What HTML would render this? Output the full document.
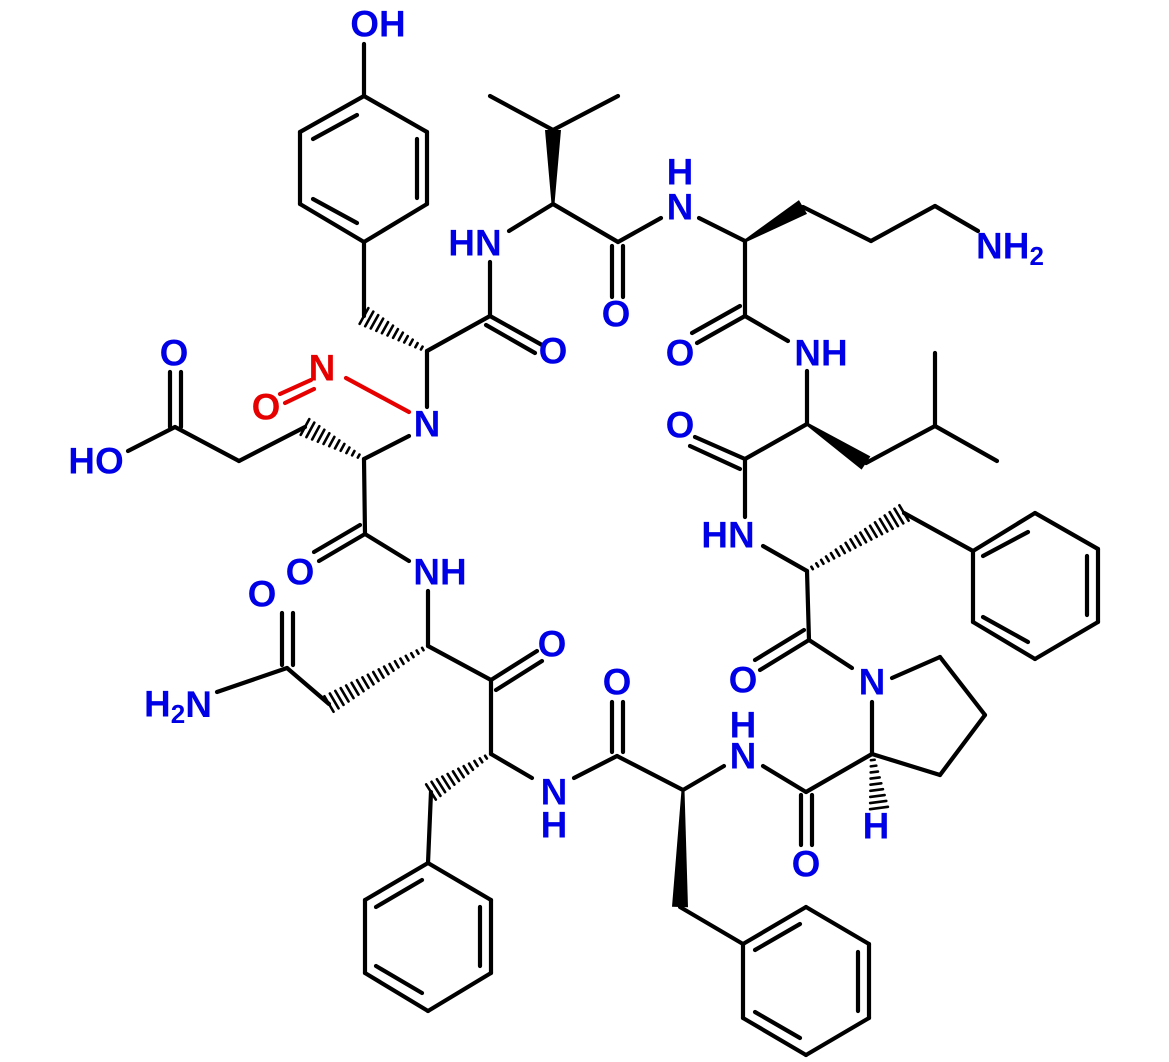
<!DOCTYPE html>
<html><head><meta charset="utf-8"><style>
html,body{margin:0;padding:0;background:#fff;}
svg{display:block}
text{font-family:"Liberation Sans",sans-serif;font-weight:bold;font-size:37px;text-anchor:middle;dominant-baseline:central;fill:#0000e6}
.r{fill:#e60000}
</style></head><body>
<svg id="s" width="1169" height="1062" viewBox="0 0 1169 1062" xmlns="http://www.w3.org/2000/svg">
<g id="b" stroke="#000" stroke-width="4.2" stroke-linecap="round" fill="none"></g>
<g id="w" fill="#000"></g>
<g stroke="#e60000" stroke-width="4.2" stroke-linecap="round">
<line x1="409" y1="412" x2="346" y2="378"/>
<line x1="280" y1="394" x2="311" y2="380"/>
<line x1="285" y1="403" x2="314" y2="389"/>
</g>
<text x="378" y="24">OH</text>
<text x="475" y="243">HN</text>
<text x="553" y="351">O</text>
<text x="616" y="314">O</text>
<text x="680" y="172">H</text>
<text x="680" y="207">N</text>
<text x="1010" y="246">NH<tspan font-size="26" dy="10">2</tspan></text>
<text x="680" y="353">O</text>
<text x="821" y="353">NH</text>
<text x="680" y="425">O</text>
<text x="728" y="535">HN</text>
<text x="743" y="680">O</text>
<text x="872" y="682">N</text>
<text x="876" y="826">H</text>
<text x="806" y="864">O</text>
<text x="743" y="756">N</text>
<text x="743" y="725">H</text>
<text x="617" y="682">O</text>
<text x="554" y="792">N</text>
<text x="554" y="825">H</text>
<text x="552" y="644">O</text>
<text x="262" y="594">O</text>
<text x="178" y="704">H<tspan font-size="26" dy="10">2</tspan><tspan dy="-10">N</tspan></text>
<text x="440" y="572">NH</text>
<text x="300" y="572">O</text>
<text x="174" y="353">O</text>
<text x="96" y="461">HO</text>
<text class="r" x="322" y="368">N</text>
<text class="r" x="266" y="407">O</text>
<text x="427" y="424">N</text>
</svg>
<script>
var L=[
[364,44,364,96],[364,96,300,132],[300,132,300,204],[300,204,364,242],[364,242,427,204],[427,204,427,132],[427,132,364,96],
[357,115,313,139],[417,139,417,198],[313,199,357,223],
[364,242,364,316],[427,351,490,316],[490,316,542,345],[486,325,535,353],[490,316,490,262],
[509,231,553,204],[553,130,490,96],[553,130,618,96],[553,204,618,242],
[612,246,612,297],[623,246,623,297],[618,242,661,218],[699,218,745,241],
[803,207,871,241],[871,241,935,206],[935,206,978,231],
[745,241,745,316],[745,316,697,343],[740,306,692,333],[745,316,788,341],
[807,371,807,424],[866,463,935,426],[935,426,935,353],[935,426,997,461],
[807,424,745,459],[745,459,695,437],[740,469,690,446],[745,459,745,517],
[763,546,807,571],[904,513,973,551],
[973,551,1035,513],[1035,513,1098,549],[1098,549,1098,622],[1098,622,1035,659],[1035,659,973,622],[973,622,973,551],
[983,556,1028,532],[1087,556,1087,615],[983,617,1028,642],
[807,571,809,640],[809,640,760,670],[804,630,755,660],[809,640,852,668],
[892,678,940,657],[940,657,985,715],[985,715,940,775],[940,775,872,754],[872,754,872,702],
[872,754,806,792],[801,795,801,845],[812,795,812,845],[806,792,763,766],
[724,766,683,790],[680,907,743,944],
[743,944,806,907],[806,907,869,944],[869,944,869,1018],[869,1018,806,1055],[806,1055,743,1018],[743,1018,743,944],
[755,950,800,924],[858,952,858,1011],[755,1012,800,1038],
[683,790,617,756],[612,752,612,702],[623,752,623,702],[617,756,574,778],
[532,778,491,754],[431,792,428,863],
[428,863,491,900],[491,900,491,973],[491,973,428,1011],[428,1011,365,973],[365,973,365,900],[365,900,428,863],
[376,907,422,880],[480,907,480,966],[376,966,422,993],
[491,754,491,680],[491,680,537,651],[496,690,542,661],[491,680,428,646],
[329,704,287,668],[282,665,282,613],[293,665,293,613],[287,668,217,692],
[428,646,428,591],[409,561,365,534],[365,534,319,561],[360,525,314,552],[365,534,364,459],
[305,427,239,461],[239,461,175,427],[170,427,170,372],[181,427,181,372],[175,427,128,451],
[409,436,364,459],[427,351,427,407]
];
var ns="http://www.w3.org/2000/svg",b=document.getElementById('b'),w=document.getElementById('w');
L.forEach(function(a){var e=document.createElementNS(ns,'line');e.setAttribute('x1',a[0]);e.setAttribute('y1',a[1]);e.setAttribute('x2',a[2]);e.setAttribute('y2',a[3]);b.appendChild(e);});
function wedge(x1,y1,x2,y2){var dx=x2-x1,dy=y2-y1,l=Math.hypot(dx,dy),px=-dy/l,py=dx/l,h=8;
var p=document.createElementNS(ns,'polygon');p.setAttribute('points',(x1+px*1.5)+','+(y1+py*1.5)+' '+(x1-px*1.5)+','+(y1-py*1.5)+' '+(x2-px*h)+','+(y2-py*h)+' '+(x2+px*h)+','+(y2+py*h));w.appendChild(p);}
function hash(x1,y1,x2,y2){var dx=x2-x1,dy=y2-y1,l=Math.hypot(dx,dy),px=-dy/l,py=dx/l,n=Math.max(7,Math.round(l/6));
for(var i=1;i<=n;i++){var t=i/n,cx=x1+dx*t,cy=y1+dy*t,h=1+t*8;var e=document.createElementNS(ns,'line');
e.setAttribute('x1',cx+px*h);e.setAttribute('y1',cy+py*h);e.setAttribute('x2',cx-px*h);e.setAttribute('y2',cy-py*h);e.setAttribute('stroke-width','2.6');b.appendChild(e);}}
wedge(553,204,553,130);wedge(745,241,803,207);wedge(807,424,866,463);wedge(683,790,680,907);
hash(427,351,364,316);hash(364,459,305,427);hash(807,571,904,513);hash(872,754,879,808);hash(491,754,431,792);hash(428,646,329,704);
</script>
</body></html>
